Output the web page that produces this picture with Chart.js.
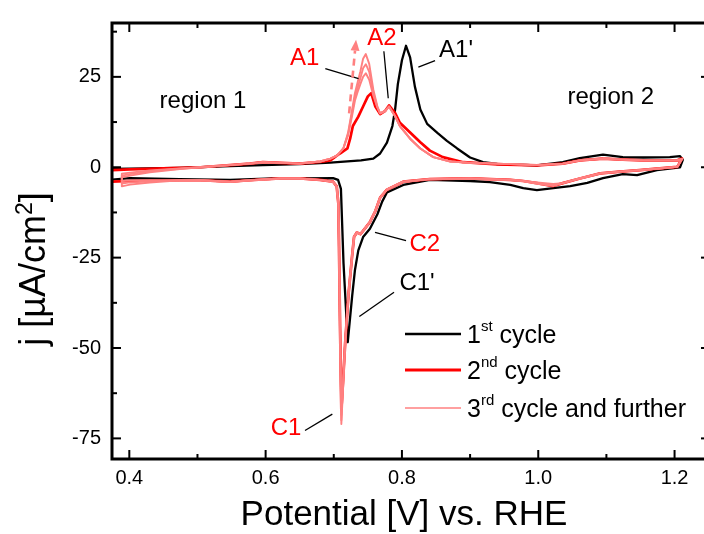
<!DOCTYPE html>
<html><head><meta charset="utf-8">
<script src="https://cdn.jsdelivr.net/npm/chart.js@4.4.0/dist/chart.umd.min.js"></script>
<style>html,body{margin:0;padding:0;overflow:hidden;background:#fff;width:704px;height:534px}canvas{display:block}</style>
</head><body>
<canvas id="c" width="716" height="534"></canvas>
<script>
// ---- tick values ----
const xTickValues = [0.4, 0.6, 0.8, 1.0, 1.2];
const xMinorTicks = [0.5, 0.7, 0.9, 1.1];
const yTickValues = [-75, -50, -25, 0, 25];
const yMinorTicks = [-62.5, -37.5, -12.5, 12.5, 37.5];

// ---- 1st cycle (black) ----
const cycle1Potential = [0.370, 0.401, 0.474, 0.548, 0.596, 0.650, 0.695, 0.740, 0.758, 0.768, 0.778, 0.786, 0.790, 0.794, 0.800, 0.806, 0.812, 0.819, 0.827, 0.837, 0.852, 0.866, 0.881, 0.900, 0.919, 0.940, 0.998, 1.036, 1.061, 1.095, 1.124, 1.154, 1.193, 1.208, 1.212,
  1.208, 1.174, 1.145, 1.124, 1.095, 1.072, 1.047, 1.022, 0.998, 0.978, 0.959, 0.929, 0.900, 0.841, 0.802, 0.778, 0.771, 0.764, 0.753, 0.743, 0.736, 0.731, 0.727, 0.7205, 0.7143, 0.7105, 0.7063, 0.699, 0.650, 0.621, 0.548, 0.474, 0.401, 0.370];
const cycle1Current = [-0.5, -0.4, -0.2, 0.3, 0.6, 0.9, 1.3, 1.9, 2.4, 3.8, 6.8, 11.4, 16.0, 23.0, 29.6, 33.6, 30.4, 22.3, 16.0, 12.0, 9.5, 7.3, 5.2, 2.7, 1.4, 0.9, 0.5, 1.4, 2.5, 3.5, 2.8, 2.7, 2.8, 3.1, 2.0,
  0.0, -0.8, -2.2, -1.9, -3.0, -4.3, -5.2, -5.8, -6.3, -5.8, -4.9, -4.1, -3.8, -3.5, -4.9, -7.0, -9.5, -13.0, -17.0, -19.3, -23.0, -28.5, -35.6, -48.4, -26.6, -6.0, -3.5, -3.0, -3.1, -3.0, -3.5, -3.3, -3.0, -3.5];

// ---- 2nd cycle (red) ----
const cycle2Potential = [0.370, 0.401, 0.474, 0.504, 0.548, 0.577, 0.596, 0.621, 0.650, 0.680, 0.695, 0.709, 0.720, 0.724, 0.728, 0.736, 0.743, 0.750, 0.755, 0.761, 0.768, 0.775, 0.781, 0.790, 0.797, 0.812, 0.827, 0.841, 0.860, 0.890, 0.940, 0.998, 1.036, 1.061, 1.095, 1.124, 1.154, 1.204, 1.211,
  1.204, 1.174, 1.149, 1.120, 1.091, 1.061, 1.036, 1.022, 0.998, 0.978, 0.959, 0.929, 0.900, 0.841, 0.802, 0.778, 0.768, 0.761, 0.753, 0.743, 0.739, 0.734, 0.7297, 0.7268, 0.7214, 0.7166, 0.7131, 0.7111, 0.7092, 0.7077, 0.7067, 0.7043, 0.699, 0.680, 0.650, 0.621, 0.577, 0.548, 0.504, 0.474, 0.401, 0.370];
const cycle2Current = [-0.8, -0.6, -0.2, 0.0, 0.6, 1.0, 1.4, 1.2, 1.0, 1.5, 1.9, 3.8, 5.2, 7.9, 11.4, 14.0, 16.8, 19.6, 20.5, 16.8, 14.7, 15.5, 17.1, 15.0, 12.3, 9.6, 6.9, 4.6, 2.8, 1.4, 0.8, 0.5, 1.0, 1.9, 2.4, 2.1, 1.9, 1.9, 2.4,
  0.1, -0.4, -0.8, -1.2, -1.7, -3.1, -4.4, -5.2, -4.4, -3.8, -3.5, -3.3, -3.1, -3.3, -4.0, -6.2, -8.4, -12.1, -15.2, -17.6, -18.5, -18.0, -19.3, -24.7, -35.6, -49.0, -61.0, -67.0, -44.0, -22.0, -10.0, -5.3, -4.0, -3.5, -3.1, -3.1, -3.6, -4.0, -3.6, -3.6, -3.8, -4.0];

// ---- 3rd cycle and further (pink) ----
const laterPotential = [0.389, 0.401, 0.430, 0.474, 0.504, 0.548, 0.577, 0.596, 0.621, 0.650,
  0.680, 0.695, 0.705, 0.714, 0.721, 0.727, 0.731, 0.735, 0.739, 0.743,
  0.747, 0.752, 0.758, 0.764, 0.768, 0.775, 0.781, 0.790, 0.797, 0.812,
  0.827, 0.846, 0.871, 0.900, 0.940, 0.998, 1.036, 1.061, 1.095, 1.124,
  1.154, 1.204, 1.211,
  1.204, 1.174, 1.149, 1.120, 1.091, 1.061, 1.036, 1.022, 0.998, 0.978,
  0.959, 0.929, 0.900, 0.841, 0.802, 0.778, 0.768, 0.761, 0.753, 0.743,
  0.739, 0.734, 0.7297, 0.7268, 0.7214, 0.7166, 0.7131, 0.7111, 0.7092, 0.7077,
  0.7067, 0.7043, 0.699, 0.680, 0.650, 0.621, 0.577, 0.548, 0.504, 0.474,
  0.430, 0.401, 0.389];
const cycle3Current = [-1.8, -1.5, -0.9, -0.3, 0.0, 0.6, 1.0, 1.4, 1.2, 1.0,
  1.6, 2.4, 3.3, 5.2, 8.8, 14.4, 18.4, 20.8, 23.0, 25.0,
  26.0, 24.2, 19.8, 16.5, 14.9, 15.5, 16.8, 14.1, 11.4, 7.9,
  5.2, 2.8, 1.6, 1.2, 1.0, 0.6, 1.0, 1.9, 2.4, 2.1,
  1.9, 1.9, 2.3,
  0.1, -0.4, -0.8, -1.2, -1.7, -3.1, -4.4, -4.6, -4.2, -3.8,
  -3.5, -3.3, -3.1, -3.3, -4.0, -6.2, -8.4, -12.1, -15.2, -17.6,
  -18.5, -18.0, -19.3, -24.7, -35.6, -49.0, -61.0, -68.5, -45.0, -22.0,
  -10.0, -5.3, -4.0, -3.5, -3.1, -3.1, -3.6, -4.0, -3.6, -3.6,
  -3.6, -3.7, -3.8];
const cycle4Current = [-2.3, -1.9, -1.1, -0.4, 0.0, 0.6, 1.0, 1.4, 1.2, 1.0,
  1.6, 2.4, 3.3, 5.2, 9.2, 15.2, 19.4, 22.0, 24.6, 27.4,
  28.5, 26.4, 20.6, 16.6, 14.9, 15.5, 16.8, 14.1, 11.4, 7.9,
  5.2, 2.8, 1.6, 1.2, 1.0, 0.6, 1.0, 1.9, 2.4, 2.1,
  1.9, 1.9, 2.3,
  0.1, -0.4, -0.8, -1.2, -1.7, -3.1, -4.4, -4.9, -4.4, -3.8,
  -3.5, -3.3, -3.1, -3.3, -4.0, -6.2, -8.4, -12.1, -15.2, -17.6,
  -18.5, -18.0, -19.3, -24.7, -35.6, -49.0, -62.0, -70.0, -45.0, -22.0,
  -10.0, -5.3, -4.0, -3.5, -3.1, -3.1, -3.6, -4.0, -3.6, -3.6,
  -3.9, -4.2, -4.5];
const cycle5Current = [-2.8, -2.3, -1.4, -0.5, 0.0, 0.6, 1.0, 1.4, 1.2, 1.0,
  1.6, 2.4, 3.3, 5.2, 9.6, 16.0, 20.5, 23.5, 26.5, 30.0,
  31.3, 28.6, 21.5, 16.8, 14.9, 15.5, 16.8, 14.1, 11.4, 7.9,
  5.2, 2.8, 1.6, 1.2, 1.0, 0.6, 1.0, 1.9, 2.4, 2.1,
  1.9, 1.9, 2.3,
  0.1, -0.4, -0.8, -1.2, -1.7, -3.1, -4.4, -5.2, -4.6, -3.8,
  -3.5, -3.3, -3.1, -3.3, -4.0, -6.2, -8.4, -12.1, -15.2, -17.6,
  -18.5, -18.0, -19.3, -24.7, -35.6, -49.0, -63.0, -71.0, -45.0, -22.0,
  -10.0, -5.3, -4.0, -3.5, -3.1, -3.1, -3.6, -4.0, -3.6, -3.6,
  -4.2, -4.8, -5.3];

// ---- annotations (data coordinates) ----
const annotationLabels = [
  {text: 'region 1', x: 0.5081, y: 18.3, color: '#000000'},
  {text: 'region 2', x: 1.1064, y: 19.4, color: '#000000'},
  {text: 'A1', x: 0.6574, y: 30.2, color: '#ff0000'},
  {text: 'A2', x: 0.7708, y: 35.6, color: '#ff0000'},
  {text: "A1'", x: 0.8794, y: 32.2, color: '#000000'},
  {text: 'C2', x: 0.8335, y: -21.4, color: '#ff0000'},
  {text: "C1'", x: 0.8222, y: -32.1, color: '#000000'},
  {text: 'C1', x: 0.6300, y: -72.3, color: '#ff0000'}
];
const leaderLines = [
  [0.6876, 27.3, 0.7364, 24.5],
  [0.7735, 32.1, 0.7799, 19.1],
  [0.8241, 27.7, 0.8486, 29.5],
  [0.7605, -18.0, 0.8060, -20.3],
  [0.7375, -41.3, 0.7884, -34.6],
  [0.6578, -72.8, 0.6979, -68.3]
];
const trendArrow = [0.7225, 14.9, 0.7327, 35.3];

const BLACK = '#000000', RED = '#ff0000', PINK = '#ff8080';
const FONT = '"Liberation Sans", Arial, sans-serif';

function pts(xs, ys, close) {
  const p = xs.map((v, i) => ({x: v, y: ys[i]}));
  if (close) p.push({x: xs[0], y: ys[0]});
  return p;
}
function lineDs(label, data, color, width) {
  return {label, data, showLine: true, borderColor: color, backgroundColor: color,
    borderWidth: width, pointRadius: 0, pointHoverRadius: 0, fill: false, tension: 0,
    borderJoinStyle: 'round', borderCapStyle: 'round'};
}

const legendItems = [
  {main: '1', sup: 'st', rest: ' cycle', color: BLACK, width: 2.6},
  {main: '2', sup: 'nd', rest: ' cycle', color: RED, width: 3},
  {main: '3', sup: 'rd', rest: ' cycle and further', color: PINK, width: 1.6}
];

const decor = {
  id: 'decor',
  afterDatasetsDraw(chart) {
    const {ctx, chartArea: a, scales: {x, y}} = chart;
    const px = v => x.getPixelForValue(v), py = v => y.getPixelForValue(v);
    ctx.save();
    // leader lines
    ctx.strokeStyle = BLACK; ctx.lineWidth = 1.3;
    leaderLines.forEach(l => {
      ctx.beginPath(); ctx.moveTo(px(l[0]), py(l[1])); ctx.lineTo(px(l[2]), py(l[3])); ctx.stroke();
    });
    // dashed trend arrow
    const x0 = px(trendArrow[0]), y0 = py(trendArrow[1]), x1 = px(trendArrow[2]), y1 = py(trendArrow[3]);
    const ang = Math.atan2(y1 - y0, x1 - x0);
    const hl = 11, hw = 4.5;
    const bx = x1 - hl * Math.cos(ang), by = y1 - hl * Math.sin(ang);
    ctx.strokeStyle = PINK; ctx.fillStyle = PINK; ctx.lineWidth = 2.6;
    ctx.setLineDash([7, 5]);
    ctx.beginPath(); ctx.moveTo(x0, y0); ctx.lineTo(bx, by); ctx.stroke();
    ctx.setLineDash([]);
    ctx.beginPath();
    ctx.moveTo(x1, y1);
    ctx.lineTo(bx + hw * Math.sin(ang), by - hw * Math.cos(ang));
    ctx.lineTo(bx - hw * Math.sin(ang), by + hw * Math.cos(ang));
    ctx.closePath(); ctx.fill();
    // annotation texts
    ctx.font = '24px ' + FONT; ctx.textAlign = 'center'; ctx.textBaseline = 'middle';
    annotationLabels.forEach(t => { ctx.fillStyle = t.color; ctx.fillText(t.text, px(t.x), py(t.y)); });
    // frame
    ctx.strokeStyle = BLACK; ctx.lineWidth = 3;
    ctx.strokeRect(a.left, a.top, a.right - a.left, a.bottom - a.top);
    // inward ticks
    ctx.lineWidth = 2;
    const tick = (x0, y0, x1, y1) => { ctx.beginPath(); ctx.moveTo(x0, y0); ctx.lineTo(x1, y1); ctx.stroke(); };
    xTickValues.forEach(v => { const p = px(v); tick(p, a.bottom, p, a.bottom - 9); tick(p, a.top, p, a.top + 9); });
    xMinorTicks.forEach(v => { const p = px(v); tick(p, a.bottom, p, a.bottom - 5); tick(p, a.top, p, a.top + 5); });
    yTickValues.forEach(v => { const p = py(v); tick(a.left, p, a.left + 9, p); tick(a.right, p, a.right - 9, p); });
    yMinorTicks.forEach(v => { const p = py(v); tick(a.left, p, a.left + 5, p); tick(a.right, p, a.right - 5, p); });
    // legend
    const lineY = [334, 370, 408], baseY = [343, 379, 417];
    legendItems.forEach((it, i) => {
      ctx.strokeStyle = it.color; ctx.lineWidth = it.width;
      tick(405, lineY[i], 461, lineY[i]);
      ctx.fillStyle = BLACK; ctx.textAlign = 'left'; ctx.textBaseline = 'alphabetic';
      let tx = 467;
      ctx.font = '25px ' + FONT; ctx.fillText(it.main, tx, baseY[i]); tx += ctx.measureText(it.main).width;
      ctx.font = '15px ' + FONT; ctx.fillText(it.sup, tx, baseY[i] - 12); tx += ctx.measureText(it.sup).width;
      ctx.font = '25px ' + FONT; ctx.fillText(it.rest, tx, baseY[i]);
    });
    ctx.restore();
  },
  afterDraw(chart) {
    const {ctx} = chart;
    ctx.save();
    ctx.fillStyle = BLACK;
    // x title
    ctx.font = '35px ' + FONT; ctx.textAlign = 'center'; ctx.textBaseline = 'alphabetic';
    ctx.fillText('Potential [V] vs. RHE', 404, 525);
    // y title with superscript
    ctx.translate(45, 269); ctx.rotate(-Math.PI / 2);
    ctx.textAlign = 'left';
    const big = '36px ' + FONT, small = '23px ' + FONT;
    ctx.font = big; const w1 = ctx.measureText('j [µA/cm').width; const w3 = ctx.measureText(']').width;
    ctx.font = small; const w2 = ctx.measureText('2').width;
    let sx = -(w1 + w2 + w3) / 2;
    ctx.font = big; ctx.fillText('j [µA/cm', sx, 0); sx += w1;
    ctx.font = small; ctx.fillText('2', sx, -13); sx += w2;
    ctx.font = big; ctx.fillText(']', sx, 0);
    ctx.restore();
  }
};

new Chart(document.getElementById('c'), {
  type: 'scatter',
  data: {
    datasets: [
      lineDs('5th cycle', pts(laterPotential, cycle5Current, true), PINK, 1.9),
      lineDs('4th cycle', pts(laterPotential, cycle4Current, true), PINK, 1.9),
      lineDs('3rd cycle and further', pts(laterPotential, cycle3Current, true), PINK, 1.9),
      lineDs('2nd cycle', pts(cycle2Potential, cycle2Current, false), RED, 2.7),
      lineDs('1st cycle', pts(cycle1Potential, cycle1Current, false), BLACK, 2.3)
    ]
  },
  options: {
    responsive: false, animation: false, devicePixelRatio: 1,
    layout: {padding: {top: 15, right: 6, left: 0, bottom: 0}},
    plugins: {legend: {display: false}, tooltip: {enabled: false}},
    events: [],
    scales: {
      x: {
        type: 'linear', min: 0.3746, max: 1.252,
        grid: {display: false, drawTicks: false}, border: {display: false},
        afterFit: s => { s.height = 75; },
        afterBuildTicks: s => { s.ticks = xTickValues.map(v => ({value: v})); },
        ticks: {padding: 7, color: BLACK, font: {family: FONT, size: 20}, maxRotation: 0,
          callback: v => Number(v).toFixed(1)}
      },
      y: {
        type: 'linear', min: -80.7, max: 39.9,
        grid: {display: false, drawTicks: false}, border: {display: false},
        afterFit: s => { s.width = 112; },
        afterBuildTicks: s => { s.ticks = yTickValues.map(v => ({value: v})); },
        ticks: {padding: 11, color: BLACK, font: {family: FONT, size: 20}}
      }
    }
  },
  plugins: [decor]
});
</script>
</body></html>
